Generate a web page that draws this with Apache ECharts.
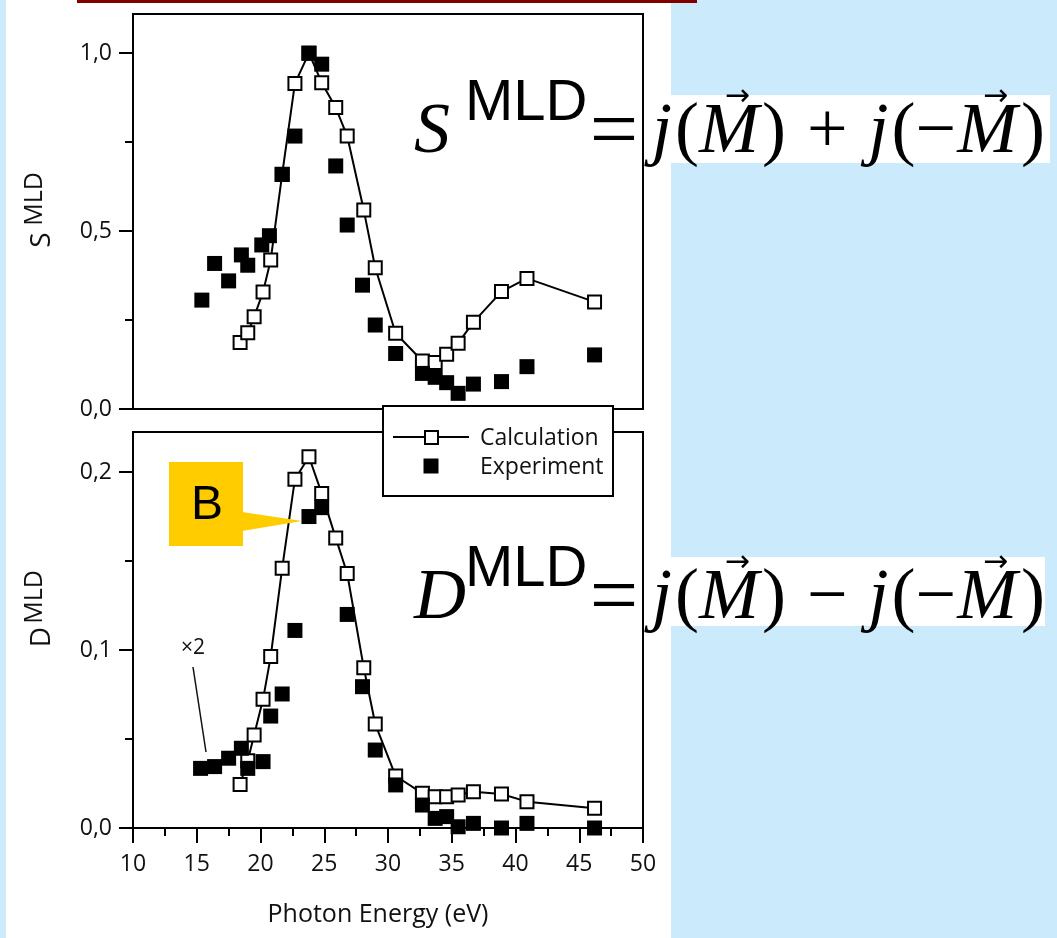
<!DOCTYPE html>
<html>
<head>
<meta charset="utf-8">
<script src="https://cdn.jsdelivr.net/npm/echarts@6/dist/echarts.min.js"></script>
<style>
  html, body { margin: 0; padding: 0; background: #cbeafc; }
  #wrap { position: relative; width: 1057px; height: 938px; overflow: hidden; }
  .panel { position: absolute; left: 6px; top: 0; width: 665px; height: 938px; background: #fff; }
  .rule { position: absolute; left: 77px; top: 0; width: 620px; height: 3px; background: #800000; z-index: 3; }
  .fbox { position: absolute; background: #fff; }
  #chart { position: absolute; left: 0; top: 0; width: 1057px; height: 938px; z-index: 2; }
</style>
</head>
<body>
<div id="wrap">
  <div class="panel"></div>
  <div class="fbox" style="left:671px;top:95px;width:379px;height:68px"></div>
  <div class="fbox" style="left:671px;top:557px;width:374px;height:69px"></div>
  <div class="rule"></div>
  <div id="chart"></div>
</div>
<script>
// Photon energies (eV) of the calculated points (shared by both panels)
const calcEnergy = [18.4, 19.0, 19.5, 20.2, 20.8, 21.7, 22.7, 23.8, 24.8, 25.9, 26.8, 28.1,
                    29.0, 30.6, 32.7, 33.7, 34.6, 35.5, 36.7, 38.9, 40.9, 46.2];
// S^MLD, calculation
const sCalc = [0.187, 0.214, 0.259, 0.329, 0.419, 0.66, 0.915, 1.0, 0.917, 0.847, 0.767, 0.559,
               0.397, 0.213, 0.135, 0.131, 0.154, 0.185, 0.244, 0.330, 0.367, 0.301];
// S^MLD, experiment
const sExpEnergy = [15.4, 16.4, 17.5, 18.5, 19.0, 20.1, 20.7, 21.7, 22.7, 23.8, 24.8, 25.9,
                    26.8, 28.0, 29.0, 30.6, 32.7, 33.7, 34.6, 35.5, 36.7, 38.9, 40.9, 46.2];
const sExp = [0.306, 0.409, 0.360, 0.433, 0.404, 0.461, 0.487, 0.659, 0.767, 1.0, 0.969, 0.683,
              0.517, 0.348, 0.236, 0.156, 0.100, 0.089, 0.074, 0.044, 0.070, 0.077, 0.119, 0.152];
// D^MLD, calculation
const dCalc = [0.0245, 0.0378, 0.0522, 0.0723, 0.0963, 0.146, 0.196, 0.2086, 0.188, 0.163, 0.143, 0.090,
               0.0584, 0.0292, 0.0195, 0.0176, 0.0176, 0.0185, 0.0204, 0.0191, 0.0148, 0.0111];
// D^MLD, experiment (below 20 eV scaled x2)
const dExpEnergy = [15.3, 16.4, 17.5, 18.5, 19.0, 20.2, 20.8, 21.7, 22.7, 23.8, 24.8, 26.8,
                    28.0, 29.0, 30.6, 32.7, 33.7, 34.6, 35.5, 36.7, 38.9, 40.9, 46.2];
const dExp = [0.0335, 0.0345, 0.0392, 0.0448, 0.0335, 0.0373, 0.0629, 0.0753, 0.111, 0.175, 0.180, 0.120,
              0.0794, 0.0438, 0.0242, 0.0129, 0.0054, 0.0064, 0.0007, 0.0026, 0.0, 0.0026, 0.0];
// Axis ticks
const xTicks = { min: 10, max: 50, step: 5 };
const sTicksMajor = [0, 0.5, 1.0], sTicksMinor = [0.25, 0.75];
const dTicksMajor = [0, 0.1, 0.2], dTicksMinor = [0.05, 0.15];

const zip = (xs, ys) => xs.map((x, i) => [x, ys[i]]);
const comma = v => v.toFixed(1).replace('.', ',');
const UI = '"Open Sans", sans-serif';
const SERIF = '"Liberation Serif", serif';
const SANS = '"Liberation Sans", Arial, sans-serif';

const chart = echarts.init(document.getElementById('chart'), null, { renderer: 'canvas' });

function yAxes(gridIndex, max, major, minor) {
  return [
    {
      type: 'value', gridIndex, position: 'left', min: 0, max,
      axisLine: { show: true, lineStyle: { color: '#000', width: 2 } },
      axisTick: { show: true, customValues: major, length: 14, lineStyle: { color: '#000', width: 2 } },
      axisLabel: { customValues: major, formatter: comma, color: '#111', fontSize: 23, fontFamily: UI, margin: 21 },
      splitLine: { show: false }
    },
    {
      type: 'value', gridIndex, position: 'left', min: 0, max,
      axisLine: { show: false },
      axisTick: { show: true, customValues: minor, length: 8, lineStyle: { color: '#000', width: 2 } },
      axisLabel: { show: false },
      splitLine: { show: false }
    }
  ];
}

const calcStyle = {
  type: 'line', symbol: 'rect', symbolSize: 13,
  itemStyle: { color: '#fff', borderColor: '#000', borderWidth: 2, opacity: 1 },
  lineStyle: { color: '#000', width: 2 }, z: 3, animation: false
};
const expStyle = {
  type: 'scatter', symbol: 'rect', symbolSize: 15,
  itemStyle: { color: '#000', opacity: 1 }, z: 4, animation: false
};

// measure text so formula pieces can be laid out side by side
const meas = document.createElement('canvas').getContext('2d');
function textW(t, font) { meas.font = font; return meas.measureText(t).width; }

function formula(lhs, op, cy) {
  const els = [];
  const big = 72;
  const it = `italic ${big}px ${SERIF}`;
  const rm = `${big}px ${SERIF}`;
  const txt = (x, y, text, font, align) => ({ type: 'text', x, y, z: 50,
    style: { text, font, fill: '#000', align: align || 'left', verticalAlign: 'middle' } });
  els.push(txt(414, cy, lhs, it));
  els.push(txt(465, cy - 29, 'MLD', `58px ${SANS}`));
  els.push(txt(614, cy + 2, '=', `86px ${SERIF}`, 'center'));
  const parts = [
    { t: 'j', f: it, g: 3 }, { t: '(', f: rm, g: 0 }, { t: 'M', f: it, g: 3, vec: true }, { t: ')', f: rm, g: 21 },
    { t: op, f: rm, g: 21 },
    { t: 'j', f: it, g: 3 }, { t: '(', f: rm, g: 0 }, { t: '\u2212', f: rm, g: 1 }, { t: 'M', f: it, g: 4, vec: true }, { t: ')', f: rm, g: 0 }
  ];
  let x = 652;
  parts.forEach(p => {
    const w = textW(p.t, p.f);
    els.push(txt(x, cy, p.t, p.f));
    if (p.vec) {
      els.push(txt(x + w * 0.64, cy - 36, '\u2192', `30px "DejaVu Sans"`, 'center'));
    }
    x += w + p.g;
  });
  return els;
}

const option = {
  backgroundColor: 'transparent',
  animation: false,
  grid: [
    { left: 133, width: 510, top: 14, height: 395, show: true, borderColor: '#000', borderWidth: 2, backgroundColor: 'transparent' },
    { left: 133, width: 510, top: 432, height: 396, show: true, borderColor: '#000', borderWidth: 2, backgroundColor: 'transparent' }
  ],
  xAxis: [
    {
      type: 'value', gridIndex: 0, min: xTicks.min, max: xTicks.max, interval: xTicks.step,
      axisLine: { show: false }, axisTick: { show: false }, axisLabel: { show: false }, splitLine: { show: false }
    },
    {
      type: 'value', gridIndex: 1, min: xTicks.min, max: xTicks.max, interval: xTicks.step,
      axisLine: { show: true, lineStyle: { color: '#000', width: 2 } },
      axisTick: { show: true, length: 15, lineStyle: { color: '#000', width: 2 } },
      minorTick: { show: true, splitNumber: 2, length: 8, lineStyle: { color: '#000', width: 2 } },
      axisLabel: { color: '#111', fontSize: 23, fontFamily: UI, margin: 25 },
      splitLine: { show: false }
    }
  ],
  yAxis: [
    ...yAxes(0, 1.11, sTicksMajor, sTicksMinor),
    ...yAxes(1, 0.2225, dTicksMajor, dTicksMinor)
  ],
  series: [
    Object.assign({ name: 'Calculation', xAxisIndex: 0, yAxisIndex: 0, data: zip(calcEnergy, sCalc) }, calcStyle),
    Object.assign({ name: 'Experiment', xAxisIndex: 0, yAxisIndex: 0, data: zip(sExpEnergy, sExp) }, expStyle),
    Object.assign({ name: 'Calculation', xAxisIndex: 1, yAxisIndex: 2, data: zip(calcEnergy, dCalc) }, calcStyle),
    Object.assign({ name: 'Experiment', xAxisIndex: 1, yAxisIndex: 2, data: zip(dExpEnergy, dExp) }, expStyle)
  ],
  graphic: [
    // legend box
    { type: 'rect', z: 100, shape: { x: 383, y: 406, width: 230, height: 90 }, style: { fill: '#fff', stroke: '#000', lineWidth: 2 } },
    { type: 'line', z: 101, shape: { x1: 393, y1: 437, x2: 469, y2: 437 }, style: { stroke: '#000', lineWidth: 2 } },
    { type: 'rect', z: 102, shape: { x: 425, y: 431, width: 13, height: 13 }, style: { fill: '#fff', stroke: '#000', lineWidth: 2 } },
    { type: 'rect', z: 102, shape: { x: 423.5, y: 458.5, width: 15, height: 15 }, style: { fill: '#000' } },
    { type: 'text', z: 102, x: 480, y: 438, style: { text: 'Calculation', font: `23px ${UI}`, fill: '#111', align: 'left', verticalAlign: 'middle' } },
    { type: 'text', z: 102, x: 480, y: 467, style: { text: 'Experiment', font: `23px ${UI}`, fill: '#111', align: 'left', verticalAlign: 'middle' } },
    // axis titles
    { type: 'text', z: 50, x: 42, y: 240, rotation: Math.PI / 2, style: { text: 'S', font: `28px ${UI}`, fill: '#111', align: 'center', verticalAlign: 'middle' } },
    { type: 'text', z: 50, x: 35, y: 199, rotation: Math.PI / 2, style: { text: 'MLD', font: `25px ${UI}`, fill: '#111', align: 'center', verticalAlign: 'middle' } },
    { type: 'text', z: 50, x: 42, y: 637, rotation: Math.PI / 2, style: { text: 'D', font: `28px ${UI}`, fill: '#111', align: 'center', verticalAlign: 'middle' } },
    { type: 'text', z: 50, x: 35, y: 597, rotation: Math.PI / 2, style: { text: 'MLD', font: `25px ${UI}`, fill: '#111', align: 'center', verticalAlign: 'middle' } },
    { type: 'text', z: 50, x: 378, y: 915, style: { text: 'Photon Energy (eV)', font: `25px ${UI}`, fill: '#111', align: 'center', verticalAlign: 'middle' } },
    // x2 note for the low-energy experiment points
    { type: 'text', z: 50, x: 193, y: 648, style: { text: '\u00d72', font: `21px ${UI}`, fill: '#111', align: 'center', verticalAlign: 'middle' } },
    { type: 'line', z: 50, shape: { x1: 193, y1: 667, x2: 206, y2: 752 }, style: { stroke: '#111', lineWidth: 1.5 } },
    // "B" callout
    { type: 'polygon', z: 60, shape: { points: [[242, 512], [242, 531], [302, 521]] }, style: { fill: '#ffcc00' } },
    { type: 'rect', z: 60, shape: { x: 169, y: 462, width: 74, height: 84 }, style: { fill: '#ffcc00' } },
    { type: 'text', z: 61, x: 207, y: 506, style: { text: 'B', font: `48px ${SANS}`, fill: '#000', align: 'center', verticalAlign: 'middle' } },
    // formulas
    ...formula('S', '+', 133),
    ...formula('D', '\u2212', 599)
  ]
};

chart.setOption(option);
</script>
</body>
</html>
